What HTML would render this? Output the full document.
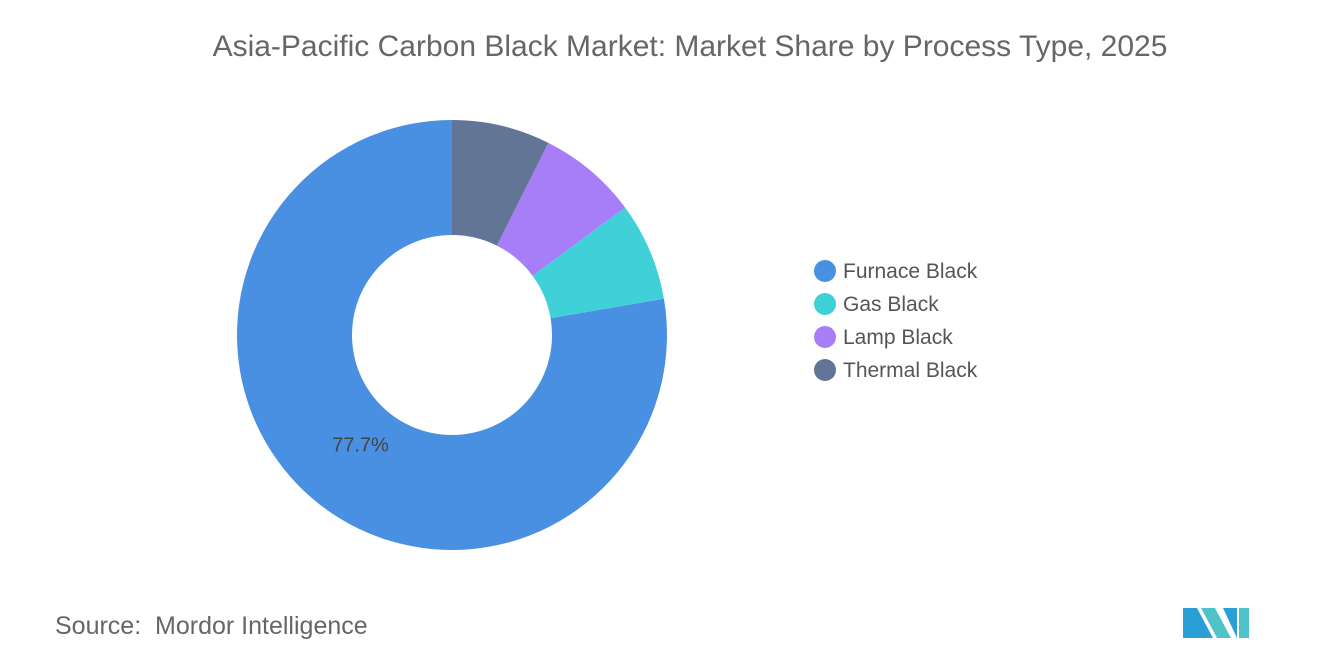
<!DOCTYPE html>
<html><head><meta charset="utf-8"><style>
body{margin:0;width:1320px;height:665px;background:#fff;font-family:"Liberation Sans",sans-serif;overflow:hidden;position:relative}
#title{position:absolute;top:30px;left:0;width:1380px;text-align:center;font-size:30px;color:#666}
#src{position:absolute;left:55px;top:612px;font-size:25px;color:#666}
</style></head><body>
<div id="title">Asia-Pacific Carbon Black Market: Market Share by Process Type, 2025</div>
<svg id="chart" width="1320" height="665" style="position:absolute;left:0;top:0"></svg>
<div id="src">Source:&nbsp; Mordor Intelligence</div>
<svg width="70" height="40" style="position:absolute;left:1183px;top:600px">
<polygon points="0,38 0,8 14,8 30,38" fill="#2a9fd6"/><polygon points="18,8 32,8 48,38 34,38" fill="#4ec3c9"/><polygon points="40,8 54,8 54,38" fill="#2a9fd6"/><polygon points="56,8 66,8 66,38 56,38" fill="#4ec3c9"/>
</svg>
<script>
const categories=["Furnace Black","Gas Black","Lamp Black","Thermal Black"];
const values=[77.7,7.4,7.5,7.4];
const colors=["#4A90E2","#40D0D8","#A77EF8","#637596"];
const cx=452,cy=335,R=215,r=100;
const svg=document.getElementById('chart');const NS="http://www.w3.org/2000/svg";
const total=values.reduce((a,b)=>a+b,0);
function pt(a,rad){return [cx+rad*Math.sin(a),cy-rad*Math.cos(a)];}
let acc=0;
values.forEach((v,i)=>{
 const a0=-acc/total*2*Math.PI;acc+=v;const a1=-acc/total*2*Math.PI;
 const large=(v/total)>0.5?1:0;
 const p0=pt(a0,R),p1=pt(a1,R),q1=pt(a1,r),q0=pt(a0,r);
 const p=document.createElementNS(NS,'path');
 p.setAttribute('d',`M${p0[0]},${p0[1]} A${R},${R} 0 ${large} 0 ${p1[0]},${p1[1]} L${q1[0]},${q1[1]} A${r},${r} 0 ${large} 1 ${q0[0]},${q0[1]} Z`);
 p.setAttribute('fill',colors[i]);
 
 
 svg.appendChild(p);
 if(i===0){
  const am=(a0+a1)/2,lp=pt(am,(R+r)/2);
  const t=document.createElementNS(NS,'text');
  t.setAttribute('x',lp[0]+10);t.setAttribute('y',lp[1]-4);t.setAttribute('font-size','20');t.setAttribute('fill','#444');t.setAttribute('text-anchor','middle');
  
  
  t.textContent=v+'%';svg.appendChild(t);
 }
 const c=document.createElementNS(NS,'circle');
 c.setAttribute('cx',825);c.setAttribute('cy',271+i*33);c.setAttribute('r',11);c.setAttribute('fill',colors[i]);
 
 
 svg.appendChild(c);
 const t=document.createElementNS(NS,'text');
 t.setAttribute('x',843);t.setAttribute('y',278+i*33);t.setAttribute('font-size','21');t.setAttribute('fill','#555');
 
 
 t.textContent=categories[i];svg.appendChild(t);
});
</script>
</body></html>
